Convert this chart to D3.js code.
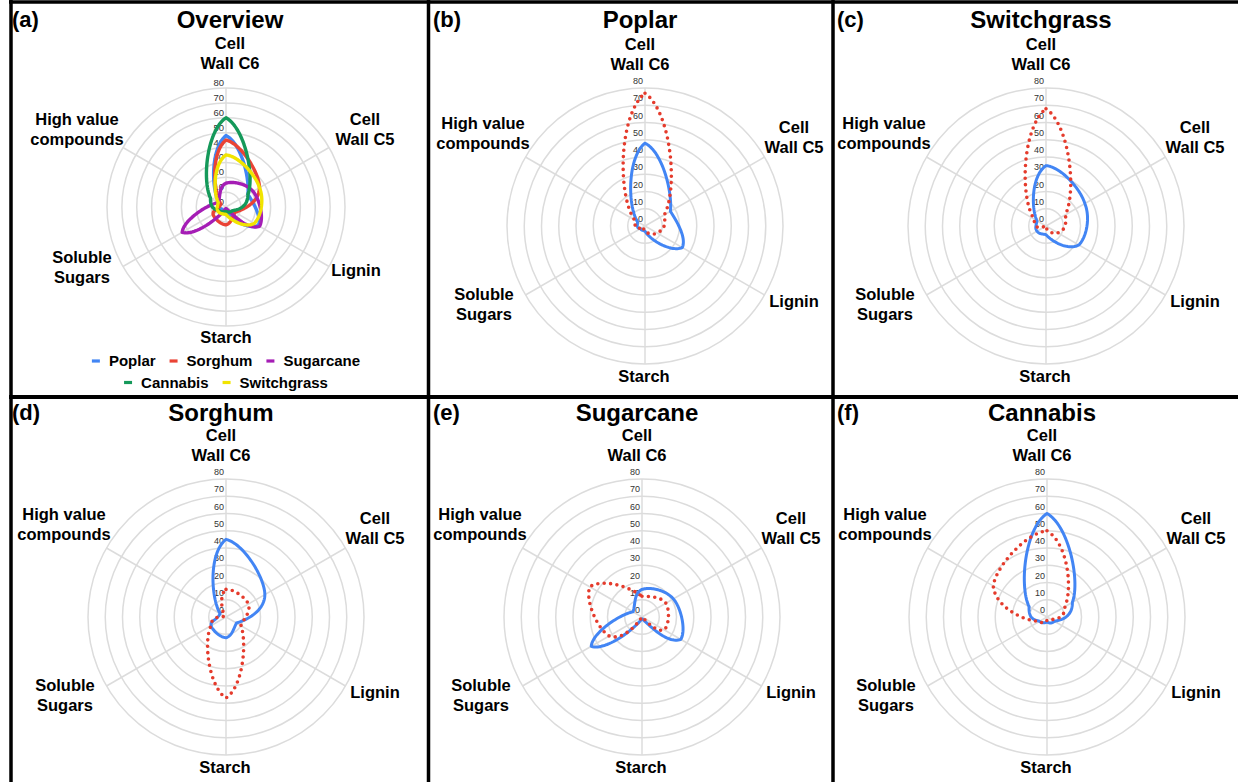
<!DOCTYPE html>
<html>
<head>
<meta charset="utf-8">
<script src="https://cdn.jsdelivr.net/npm/d3@7"></script>
<style>
  html, body { margin: 0; padding: 0; background: #fff; }
  svg { display: block; font-family: "Liberation Sans", Arial, Helvetica, sans-serif; }
</style>
</head>
<body>
<svg id="chart" width="1238" height="782"></svg>
<script>
// ---- data -------------------------------------------------------------
// axis order, clockwise from the top
const axisNames = ["Cell Wall C6", "Cell Wall C5", "Lignin", "Starch", "Soluble Sugars", "High value compounds"];
const axisLines = [["Cell", "Wall C6"], ["Cell", "Wall C5"], ["Lignin"], ["Starch"], ["Soluble", "Sugars"], ["High value", "compounds"]];
const tickValues = [0, 10, 20, 30, 40, 50, 60, 70, 80];

// composition of each feedstock (solid lines)
const poplar      = [48, 17, 25, 3, 3, 5];
const sorghum     = [45, 26, 7, 12, 10, 4];
const sugarcane   = [16, 21, 26, 1, 34, 6];
const cannabis    = [60, 17, 5, 3, 5, 12];
const switchgrass = [35, 26, 22, 5, 6, 6];

// second profile shown dotted in each single-crop panel
const poplarDotted      = [77, 13, 8, 3, 1, 7];
const switchgrassDotted = [68, 13, 8, 1, 0, 8];
const sorghumDotted     = [16, 15, 10, 47, 10, 1];
const sugarcaneDotted   = [12, 16, 15, 0, 22, 35];
const cannabisDotted    = [50, 12, 3, 2, 5, 36];

const overviewNames  = ["Poplar", "Sorghum", "Sugarcane", "Cannabis", "Switchgrass"];
const overviewSeries = [poplar, sorghum, sugarcane, cannabis, switchgrass];

// ---- styling ----------------------------------------------------------
const colors = {
  Poplar: "#4285f4", Sorghum: "#ea4335", Sugarcane: "#a51db5",
  Cannabis: "#15995a", Switchgrass: "#f1e400"
};
const solidBlue = "#4285f4";
const dottedRed = "#e53b2c";
const gridColor = "#dcdcdc";

const svg = d3.select("#chart");
svg.append("rect").attr("width", 1238).attr("height", 782).attr("fill", "#fff");

// label offsets (relative to the radar centre) for the large and the small layouts
const labelOffsetsLarge = [
  { dx: -5,   dy: [-176, -156] },
  { dx: 149,  dy: [-93, -73] },
  { dx: 149,  dy: [81] },
  { dx: -1,   dy: [156] },
  { dx: -161, dy: [74, 94] },
  { dx: -162, dy: [-97, -77] }
];
const labelOffsetsOverview = [
  { dx: 4,    dy: [-158, -138] },
  { dx: 139,  dy: [-82, -62] },
  { dx: 130,  dy: [69] },
  { dx: 0,    dy: [136] },
  { dx: -144, dy: [56, 76] },
  { dx: -149, dy: [-82, -62] }
];

// Outline through the axis points: a blend of a polar sweep (radius changing
// with angle) and a Catmull-Rom spline, which gives the rounded petal shapes.
function outline(values, rScale, angle, cx, cy) {
  const n = values.length, steps = 30, w = 0.5;
  const pt = i => {
    const k = ((i % n) + n) % n;
    const r = rScale(values[k]), a = angle(k);
    return [cx + r * Math.sin(a), cy - r * Math.cos(a)];
  };
  const out = [];
  for (let i = 0; i < n; i++) {
    const p0 = pt(i - 1), p1 = pt(i), p2 = pt(i + 1), p3 = pt(i + 2);
    const a1 = angle(i), a2 = angle(i + 1);
    const r1 = rScale(values[i]), r2 = rScale(values[(i + 1) % n]);
    for (let s = 0; s < steps; s++) {
      const t = s / steps, t2 = t * t, t3 = t2 * t;
      const a = a1 + (a2 - a1) * t, rr = r1 + (r2 - r1) * t;
      const sx = cx + rr * Math.sin(a), sy = cy - rr * Math.cos(a);
      const cr = j => 0.5 * (2 * p1[j] + (-p0[j] + p2[j]) * t +
        (2 * p0[j] - 5 * p1[j] + 4 * p2[j] - p3[j]) * t2 +
        (-p0[j] + 3 * p1[j] - 3 * p2[j] + p3[j]) * t3);
      out.push([w * sx + (1 - w) * cr(0), w * sy + (1 - w) * cr(1)]);
    }
  }
  return out;
}

function drawPanel(p) {
  const g = svg.append("g");
  const rScale = d3.scaleLinear().domain([0, 80]).range([0, p.R]);
  const angle = d3.scaleLinear().domain([0, axisNames.length]).range([0, 2 * Math.PI]);

  // rings
  g.selectAll("circle.ring").data(tickValues.filter(v => v > 0)).join("circle")
    .attr("cx", p.cx).attr("cy", p.cy).attr("r", d => rScale(d))
    .attr("fill", "none").attr("stroke", gridColor).attr("stroke-width", 1.5);

  // spokes
  g.selectAll("line.spoke").data(axisNames).join("line")
    .attr("x1", p.cx).attr("y1", p.cy)
    .attr("x2", (d, i) => p.cx + rScale(80) * Math.sin(angle(i)))
    .attr("y2", (d, i) => p.cy - rScale(80) * Math.cos(angle(i)))
    .attr("stroke", gridColor).attr("stroke-width", 1.5);

  // value labels along the top spoke
  g.selectAll("text.tick").data(tickValues).join("text")
    .attr("x", p.cx - 2).attr("y", d => p.cy - rScale(d) - p.tickLift)
    .attr("text-anchor", "end").attr("font-size", p.tickSize)
    .attr("fill", "#333").text(d => d);

  // axis names
  const offs = p.overview ? labelOffsetsOverview : labelOffsetsLarge;
  axisLines.forEach((lines, i) => {
    lines.forEach((ln, j) => {
      g.append("text")
        .attr("x", p.cx + offs[i].dx).attr("y", p.cy + offs[i].dy[j])
        .attr("text-anchor", "middle").attr("font-size", 16.5)
        .attr("font-weight", "bold").attr("fill", "#000").text(ln);
    });
  });

  const line = d3.line().curve(d3.curveLinearClosed);
  p.series.forEach(s => {
    const path = g.append("path")
      .attr("d", line(outline(s.values, rScale, angle, p.cx, p.cy)))
      .attr("fill", "none").attr("stroke", s.color)
      .attr("stroke-width", s.width).attr("stroke-linejoin", "round");
    if (s.dotted) {
      path.attr("stroke-dasharray", "0 6.4").attr("stroke-linecap", "round");
    }
  });

  // title and panel tag
  svg.append("text").attr("x", p.titleX).attr("y", p.titleY)
    .attr("text-anchor", "middle").attr("font-size", 24).attr("font-weight", "bold")
    .text(p.title);
  svg.append("text").attr("x", p.tagX).attr("y", p.tagY)
    .attr("font-size", 22).attr("font-weight", "bold").text(p.tag);
}

function pair(solid, dotted) {
  return [
    { values: solid, color: solidBlue, width: 3, dotted: false },
    { values: dotted, color: dottedRed, width: 3.6, dotted: true }
  ];
}

const panels = [
  { tag: "(a)", title: "Overview", cx: 226, cy: 207, R: 119, overview: true,
    tickSize: 9.5, tickLift: 2, titleX: 230, titleY: 28, tagX: 12, tagY: 27,
    series: overviewSeries.map((v, i) => ({ values: v, color: colors[overviewNames[i]], width: 3.4 })) },
  { tag: "(b)", title: "Poplar", cx: 645, cy: 226, R: 138, tickSize: 9, tickLift: 4,
    titleX: 640, titleY: 28, tagX: 433, tagY: 27, series: pair(poplar, poplarDotted) },
  { tag: "(c)", title: "Switchgrass", cx: 1046, cy: 226, R: 138, tickSize: 9, tickLift: 4,
    titleX: 1041, titleY: 28, tagX: 837, tagY: 27, series: pair(switchgrass, switchgrassDotted) },
  { tag: "(d)", title: "Sorghum", cx: 226, cy: 617, R: 138, tickSize: 9, tickLift: 4,
    titleX: 221, titleY: 421, tagX: 12, tagY: 420, series: pair(sorghum, sorghumDotted) },
  { tag: "(e)", title: "Sugarcane", cx: 642, cy: 617, R: 138, tickSize: 9, tickLift: 4,
    titleX: 637, titleY: 421, tagX: 433, tagY: 420, series: pair(sugarcane, sugarcaneDotted) },
  { tag: "(f)", title: "Cannabis", cx: 1047, cy: 617, R: 138, tickSize: 9, tickLift: 4,
    titleX: 1042, titleY: 421, tagX: 837, tagY: 420, series: pair(cannabis, cannabisDotted) }
];
panels.forEach(drawPanel);

// legend of the overview panel, two centred rows
const legendRows = [[0, 1, 2], [3, 4]];
const legendY = [366, 387.5];
legendRows.forEach((row, ri) => {
  const lg = svg.append("g");
  let x = 0;
  row.forEach((idx, k) => {
    const name = overviewNames[idx];
    lg.append("line").attr("x1", x).attr("x2", x + 8)
      .attr("y1", legendY[ri] - 5).attr("y2", legendY[ri] - 5)
      .attr("stroke", colors[name]).attr("stroke-width", 3.2);
    const t = lg.append("text").attr("x", x + 17).attr("y", legendY[ri])
      .attr("font-size", 15).attr("font-weight", "bold").text(name);
    x += 17 + t.node().getComputedTextLength() + 14;
  });
  const width = x - 14;
  lg.attr("transform", `translate(${226 - width / 2},0)`);
});

// panel frame
const frame = svg.append("g").attr("stroke", "#000");
frame.append("line").attr("x1", 9).attr("x2", 1238).attr("y1", 2).attr("y2", 2).attr("stroke-width", 3.5);
frame.append("line").attr("x1", 11).attr("x2", 11).attr("y1", 0).attr("y2", 782).attr("stroke-width", 3.5);
frame.append("line").attr("x1", 428.5).attr("x2", 428.5).attr("y1", 0).attr("y2", 782).attr("stroke-width", 3.5);
frame.append("line").attr("x1", 833).attr("x2", 833).attr("y1", 0).attr("y2", 782).attr("stroke-width", 3.5);
frame.append("line").attr("x1", 9).attr("x2", 1238).attr("y1", 397).attr("y2", 397).attr("stroke-width", 4);
</script>
</body>
</html>
